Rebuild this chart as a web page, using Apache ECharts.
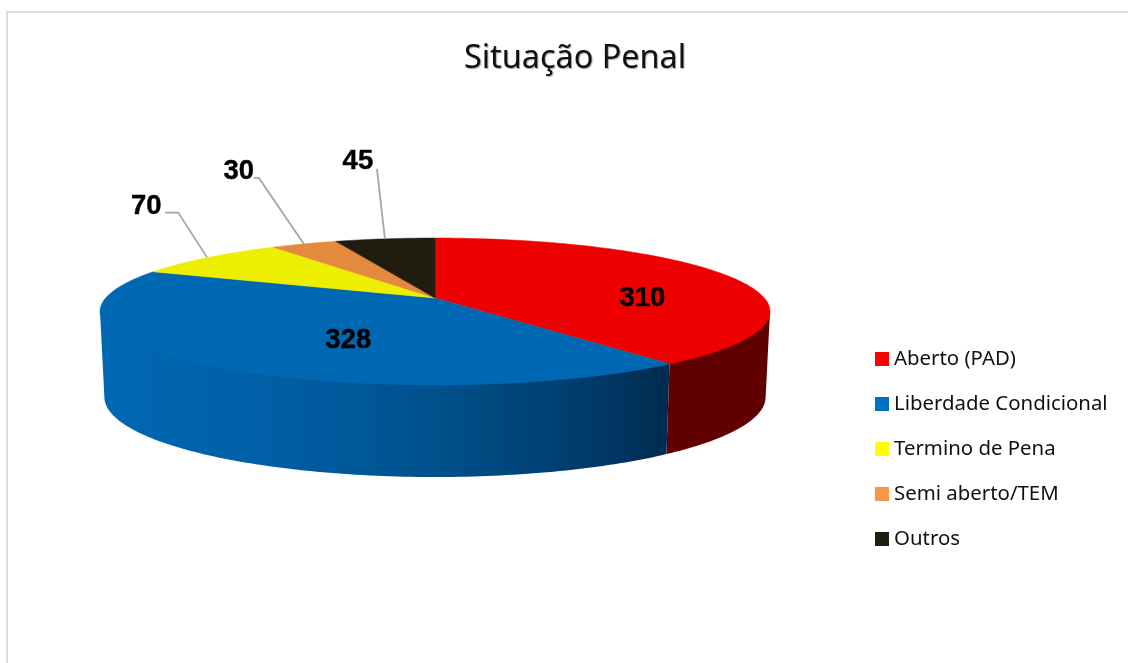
<!DOCTYPE html>
<html>
<head>
<meta charset="utf-8">
<title>Situação Penal</title>
<script src="https://cdn.jsdelivr.net/npm/echarts@6/dist/echarts.min.js"></script>
<style>
    html, body { margin: 0; padding: 0; background: #fff; }
    #main { width: 1128px; height: 663px; }
</style>
</head>
<body>
<div id="main"></div>
<script>
var categories = ['Aberto (PAD)', 'Liberdade Condicional', 'Termino de Pena', 'Semi aberto/TEM', 'Outros'];
var values = [310, 328, 70, 30, 45];

var legendColors = ['#FF0000', '#0070C0', '#FFFF00', '#F79646', '#1F1C10'];
var topColors = ['#EE0000', '#0068B3', '#EEEE00', '#E38A3F', '#201D10'];
var blueWall = new echarts.graphic.LinearGradient(99, 0, 668, 0, [
    { offset: 0, color: '#0068B3' },
    { offset: 0.3, color: '#005FA5' },
    { offset: 0.6, color: '#00508C' },
    { offset: 0.85, color: '#003C6B' },
    { offset: 1, color: '#002B50' }
], true);
var wallColors = ['#600000', blueWall, '#8E8E00', '#884F1F', '#100E08'];

// where each value label sits, measured from the rim point in the middle of its slice
var labelDx = [-87, 150, -61, -65, -27];
var labelDy = [22, -23, -51, -72, -77];
// leader line points, same origin. empty = label sits on the slice
var leaders = [
    [],
    [],
    [[-29, -45], [-42, -45]],
    [[-45, -66], [-50, -66]],
    [[-8, -70]]
];

// the 3d look: the discs are circles seen in perspective
var cx = 435;
var persp = 0.1837;
var topDisc = { x: 329.3, y: 71, apex: 298 };
var bottomDisc = { x: 325, y: 77.3, apex: 382.3 };

var total = 0;
for (var t = 0; t < values.length; t++) {
    total += values[t];
}

function startAngle(index) {
    var sum = 0;
    for (var i = 0; i < index; i++) {
        sum += values[i];
    }
    return sum / total * 360;
}

function project(disc, deg, r) {
    var rad = deg * Math.PI / 180;
    var u = Math.sin(rad) * r;
    var v = Math.cos(rad) * r;
    var w = 1 + persp * v;
    return [cx + disc.x * u / w, disc.apex - disc.y * v / w];
}

function arc(disc, from, to, r) {
    var pts = [];
    var steps = Math.max(2, Math.ceil(Math.abs(to - from)));
    for (var i = 0; i <= steps; i++) {
        pts.push(project(disc, from + (to - from) * i / steps, r));
    }
    return pts;
}

// silhouette of the disc, the wall shows only between these two angles
var sideRight = Math.acos(-persp) * 180 / Math.PI;
var sideLeft = 360 - sideRight;

function renderSlice(params, api) {
    var idx = params.seriesIndex;
    var from = startAngle(idx);
    var to = from + api.value(0) / total * 360;
    var mid = (from + to) / 2;
    var rim = project(topDisc, mid, 1);
    var children = [];

    var lo = Math.max(from, sideRight);
    var hi = Math.min(to, sideLeft);
    if (lo < hi) {
        // upper edge tucked under the top face so no pale seam shows
        var wall = arc(topDisc, lo, hi, 0.98);
        wall.push(project(topDisc, hi, 1));
        wall = wall.concat(arc(bottomDisc, hi, lo, 1));
        wall.push(project(topDisc, lo, 1));
        children.push({
            type: 'polygon',
            shape: { points: wall },
            style: { fill: wallColors[idx] }
        });
    }

    children.push({
        type: 'polygon',
        z2: 2,
        shape: { points: [[cx, topDisc.apex]].concat(arc(topDisc, from, to, 1)) },
        style: { fill: topColors[idx], stroke: topColors[idx], lineWidth: 0.5 }
    });

    if (leaders[idx].length) {
        var line = [rim];
        for (var i = 0; i < leaders[idx].length; i++) {
            line.push([rim[0] + leaders[idx][i][0], rim[1] + leaders[idx][i][1]]);
        }
        children.push({
            type: 'polyline',
            z2: 3,
            shape: { points: line },
            style: { fill: null, stroke: '#A6A6A6', lineWidth: 1.8 }
        });
    }

    children.push({
        type: 'text',
        z2: 4,
        x: rim[0] + labelDx[idx],
        y: rim[1] + labelDy[idx],
        style: {
            text: String(api.value(0)),
            fill: '#000',
            stroke: '#000',
            lineWidth: 0.4,
            align: 'center',
            verticalAlign: 'middle',
            font: 'bold 27.5px "Liberation Sans", Arial, sans-serif'
        }
    });

    return { type: 'group', children: children };
}

var seriesList = [];
for (var s = 0; s < categories.length; s++) {
    seriesList.push({
        name: categories[s],
        type: 'custom',
        coordinateSystem: 'none',
        silent: true,
        animation: false,
        itemStyle: { color: legendColors[s] },
        renderItem: renderSlice,
        data: [[values[s]]]
    });
}

var myChart = echarts.init(document.getElementById('main'));

myChart.setOption({
    backgroundColor: '#fff',
    animation: false,
    title: {
        text: 'Situação Penal',
        left: 570,
        top: 38,
        textAlign: 'center',
        textStyle: {
            fontFamily: 'Noto Sans',
            fontSize: 32.4,
            fontWeight: 'normal',
            color: '#111',
            textShadowColor: 'rgba(0,0,0,0.35)',
            textShadowBlur: 1,
            textShadowOffsetX: 1,
            textShadowOffsetY: 1
        }
    },
    legend: {
        orient: 'vertical',
        left: 875,
        top: 347,
        padding: 0,
        itemWidth: 14,
        itemHeight: 14,
        itemGap: 21,
        icon: 'rect',
        selectedMode: false,
        data: categories,
        textStyle: {
            fontFamily: 'Noto Sans',
            fontSize: 20.4,
            color: '#111',
            lineHeight: 24
        }
    },
    graphic: [{
        type: 'polyline',
        silent: true,
        shape: { points: [[7, 663], [7, 12], [1128, 12]] },
        style: { fill: null, stroke: '#DEDEDE', lineWidth: 2 }
    }],
    series: seriesList
});
</script>
</body>
</html>
